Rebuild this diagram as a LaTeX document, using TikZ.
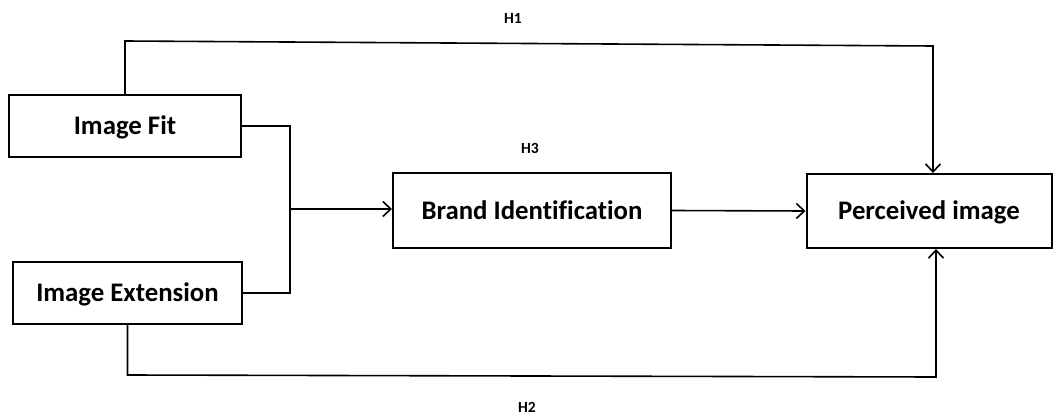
\documentclass[tikz,border=0pt]{standalone}
\usepackage{fontspec}
\setmainfont[Ligatures=CommonOff]{Carlito}
\usetikzlibrary{arrows.meta}
\begin{document}
\begin{tikzpicture}[x=1pt,y=-1pt,
  box/.style={draw,line width=2pt,inner sep=0pt,text height=17pt,text depth=0pt,
    font=\fontsize{26.8}{32}\selectfont\bfseries},
  link/.style={line width=1.6pt},
  arr/.style={link,-{Straight Barb[length=8pt,width=15pt,line width=1.6pt]}},
  hlabel/.style={font=\fontsize{15.5}{18}\selectfont\bfseries}]
\useasboundingbox (0,0) rectangle (1054,414);

% constructs
\node[box,minimum width=232pt,minimum height=62pt] (fit)   at (125,126)   {Image Fit};
\node[box,minimum width=229pt,minimum height=62pt] (ext)   at (127.5,293) {Image Extension};
\node[box,minimum width=278pt,minimum height=75pt] (brand) at (532,210.5) {Brand Identification};
\node[box,minimum width=245pt,minimum height=74pt] (perc)  at (929,211)   {Perceived image};

% hypothesis labels
\node[hlabel] (h1) at (513,18)  {H1};
\node[hlabel] (h3) at (530,148) {H3};
\node[hlabel] (h2) at (527,407) {H2};

% routing points
\coordinate (h1a) at (125,41);
\coordinate (h1b) at (933,46);
\coordinate (jx)  at (290,209);
\coordinate (h2a) at (127.5,375);
\coordinate (h2b) at (936,377);

% H1: image fit to perceived image
\draw[arr] (fit.north) -- (h1a) -- (h1b) -- (h1b |- perc.north);
% image fit and image extension merge into brand identification
\draw[link] (fit.east) -- (fit.east -| jx) -- (ext.east -| jx) -- (ext.east);
\draw[arr] (jx) -- (jx -| brand.west);
% H3: brand identification to perceived image
\draw[arr] (brand.east) -- (perc.west);
% H2: image extension to perceived image
\draw[arr] (ext.south) -- (h2a) -- (h2b) -- (h2b |- perc.south);
\end{tikzpicture}
\end{document}
